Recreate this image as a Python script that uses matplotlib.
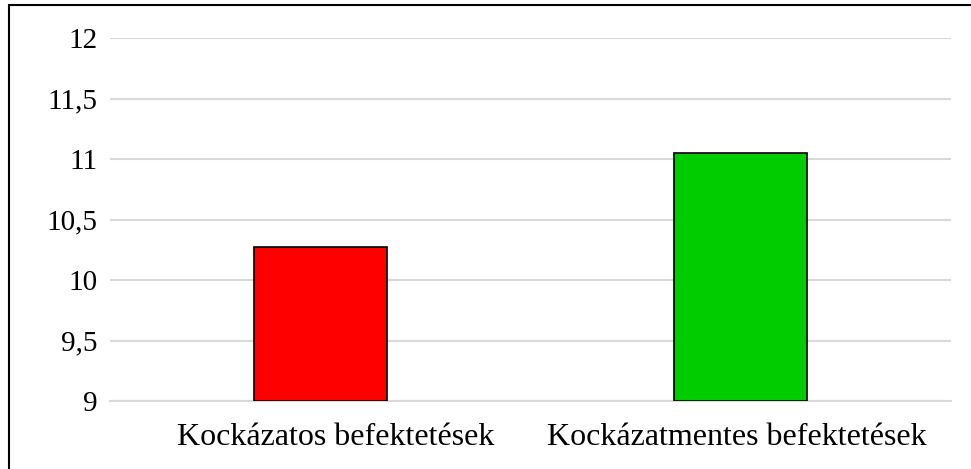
import matplotlib
matplotlib.use("Agg")
from matplotlib import pyplot as plt
from matplotlib.patches import Rectangle
from matplotlib.transforms import ScaledTranslation

categories = ["Kockázatos befektetések", "Kockázatmentes befektetések"]
values = [10.27, 11.05]
colors = ["#ff0000", "#00cc00"]
y_ticks = [9, 9.5, 10, 10.5, 11, 11.5, 12]
y_tick_labels = ["9", "9,5", "10", "10,5", "11", "11,5", "12"]

plt.rcParams["font.family"] = ["Liberation Serif", "DejaVu Serif"]

fig = plt.figure(figsize=(9.71, 4.69), dpi=100)
ax = fig.add_axes([110 / 971, 1 - 401 / 469, 841 / 971, 363 / 469])

x = list(range(len(categories)))
ax.bar(x, [v - 9 for v in values], bottom=9, width=0.316, color=colors,
       edgecolor="black", linewidth=1.2, zorder=3)

ax.set_xlim(-0.5, 1.5)
ax.set_ylim(9, 12)
ax.set_yticks(y_ticks)
ax.set_yticklabels(y_tick_labels)
ax.set_xticks(x)
ax.set_xticklabels(categories)
ax.tick_params(axis="y", length=0, pad=9, labelsize=21)
ax.tick_params(axis="x", length=0, pad=16, labelsize=23)
ax.grid(axis="y", color="#d9d9d9", linewidth=1.5, zorder=0)
for side in ["top", "right", "left"]:
    ax.spines[side].set_visible(False)
ax.spines["bottom"].set_color("#d9d9d9")
ax.spines["bottom"].set_linewidth(1.5)

# labels in the original are not exactly centred under the bars
for lbl, dx in zip(ax.get_xticklabels(), [15, -4]):
    lbl.set_transform(lbl.get_transform() + ScaledTranslation(dx / 100, 0, fig.dpi_scale_trans))

# outer frame (only top and left edges fall inside the image)
fig.patches.append(Rectangle((9 / 971, -0.05), 1.2, 1 - 5 / 469 + 0.05,
                             transform=fig.transFigure, fill=False,
                             edgecolor="black", linewidth=1.5))

fig.savefig("out.png", dpi=100)
